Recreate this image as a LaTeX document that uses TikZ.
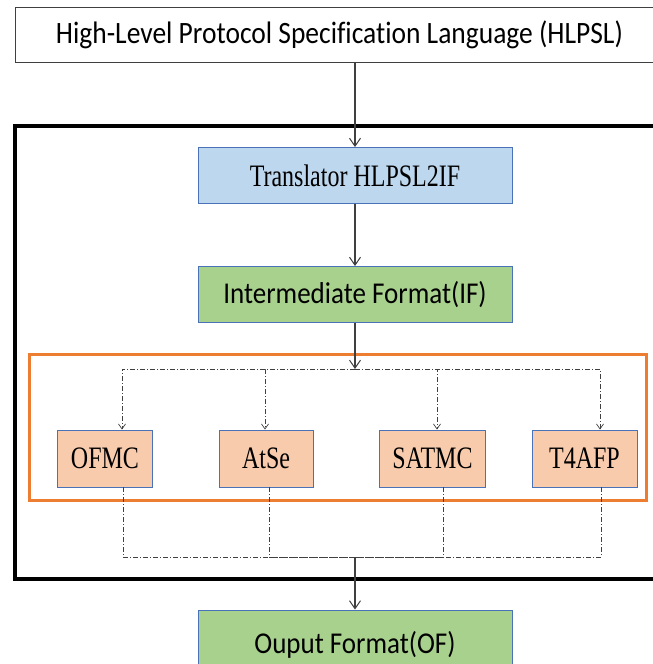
\documentclass[tikz,border=0pt]{standalone}
\usepackage{fontspec}
\usepackage{graphicx}
\usetikzlibrary{arrows.meta,calc}
\setmainfont{Liberation Serif}
\newfontfamily\calfont[Ligatures=NoCommon]{Carlito}
\newcommand\vstretch[2]{\scalebox{1}[#1]{#2}}

\definecolor{edgeblue}{HTML}{4A72B8}
\definecolor{paleblue}{HTML}{BDD7EE}
\definecolor{palegreen}{HTML}{A9D18E}
\definecolor{peach}{HTML}{F8CBAD}
\definecolor{orangeline}{HTML}{ED7D31}
\definecolor{darkline}{HTML}{404040}

\tikzset{
  stage/.style={draw=edgeblue, line width=0.9pt, minimum width=314pt, minimum height=56pt,
                inner sep=0pt, anchor=center},
  tool/.style={draw=edgeblue, line width=0.9pt, fill=peach, minimum height=57pt,
               inner sep=0pt, font=\fontsize{24}{28}\selectfont},
  arr/.style={draw=darkline, line width=1.1pt, -{Straight Barb[length=8pt,width=11pt,line width=1pt]}},
  bus/.style={draw=darkline, line width=0.8pt, dash pattern=on 5pt off 2pt on 1pt off 2pt},
  busarr/.style={bus, -{Straight Barb[length=5pt,width=7pt,line width=0.7pt]}},
}

\begin{document}
\begin{tikzpicture}[x=1pt, y=-1pt]
  \useasboundingbox[fill=white] (0,0) rectangle (653,664);

  % outer frames
  \node[draw=black, line width=4.5pt, minimum width=660pt, minimum height=453pt,
        inner sep=0pt] (core) at (345,352.5) {};
  \node[draw=orangeline, line width=3pt, minimum width=617pt, minimum height=146pt,
        inner sep=0pt] (tools) at (337.5,427.5) {};

  % input specification
  \node[draw=darkline, line width=0.9pt, minimum width=660pt, minimum height=55pt,
        inner sep=0pt, font=\calfont\fontsize{27.5}{32}\selectfont] (hlpsl) at (345,34.5)
        {\hspace*{-11pt}\raisebox{-2pt}{\vstretch{1.13}{High-Level Protocol Specification Language (HLPSL)}}};

  % pipeline stages
  \node[stage, fill=paleblue, font=\fontsize{24}{28}\selectfont] (trans) at (355,175.5)
        {\vstretch{1.3}{Translator HLPSL2IF}};
  \node[stage, fill=palegreen, font=\calfont\fontsize{27}{32}\selectfont] (ifm) at (355,294.5)
        {\vstretch{1.12}{Intermediate Format(IF)}};
  \node[stage, fill=palegreen, minimum height=80pt, font=\calfont\fontsize{27}{32}\selectfont] (outf) at (355,650)
        {\raisebox{16pt}{\vstretch{1.12}{Ouput Format(OF)}}};

  % back-end tools
  \node[tool, minimum width=95pt]  (ofmc)  at (105,458.5)   {\vstretch{1.3}{OFMC}};
  \node[tool, minimum width=94pt]  (atse)  at (266,458.5)   {\vstretch{1.3}{AtSe}};
  \node[tool, minimum width=106pt] (satmc) at (432.5,458.5) {\vstretch{1.3}{SATMC}};
  \node[tool, minimum width=105pt] (t4afp) at (584.5,458.5) {\vstretch{1.3}{T4AFP}};

  % junctions of the dispatch and collect buses
  \coordinate (split) at (355,369);
  \coordinate (merge) at (355,557);

  % main flow
  \draw[arr] (trans.north |- hlpsl.south) -- (trans.north);
  \draw[arr] (trans) -- (ifm);
  \draw[arr] (ifm) -- (split);
  \draw[arr] (merge) -- (outf.north);

  % dispatch to each tool
  \draw[busarr] (split) -| ([xshift=17pt]ofmc.north);
  \draw[busarr] (split) -| ([xshift=-1pt]atse.north);
  \draw[busarr] (split) -| ([xshift=4.5pt]satmc.north);
  \draw[busarr] (split) -| ([xshift=15.5pt]t4afp.north);

  % collect results
  \draw[bus] ([xshift=18pt]ofmc.south) |- (merge);
  \draw[bus] ([xshift=3pt]atse.south) |- (merge);
  \draw[bus] ([xshift=10.5pt]satmc.south) |- (merge);
  \draw[bus] ([xshift=16.5pt]t4afp.south) |- (merge);
\end{tikzpicture}
\end{document}
